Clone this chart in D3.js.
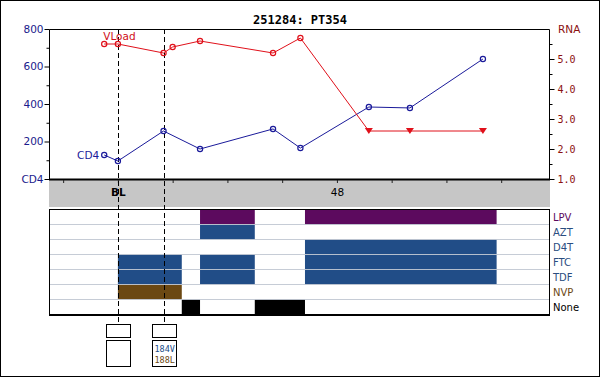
<!DOCTYPE html>
<html><head><meta charset="utf-8">
<script src="https://cdn.jsdelivr.net/npm/d3@7"></script>
<style>body{margin:0;background:#fff}svg{display:block}</style>
</head><body>
<script>
// ---- data ----
const title = "251284: PT354";
const cd4Weeks = [-3, 0, 10, 18, 34, 40, 55, 64, 80];
const cd4Values = [128, 96, 256, 160, 267, 165, 384, 379, 640];
const vlWeeks = [-3, 0, 10, 12, 18, 34, 40, 55, 64, 80];
const vlLog = [5.5, 5.5, 5.2, 5.4, 5.6, 5.2, 5.7, 2.6, 2.6, 2.6];
const vlBelow = [false, false, false, false, false, false, false, true, true, true];
const xTickWeeks = [-12, 0, 12, 24, 36, 48, 60, 72, 84];
const xTickLabels = {"0": "BL", "48": "48"};
const cd4Ticks = [0, 200, 400, 600, 800];
const cd4Minor = [100, 300, 500, 700];
const rnaTicks = [1, 2, 3, 4, 5];
const rnaMinor = [1.5, 2.5, 3.5, 4.5, 5.5];
const drugs = ["LPV", "AZT", "D4T", "FTC", "TDF", "NVP", "None"];
const drugClass = ["PI", "NRTI", "NRTI", "NRTI", "NRTI", "NNRTI", "NONE"];
const periodDrug = ["LPV", "LPV", "AZT", "D4T", "FTC", "FTC", "FTC", "TDF", "TDF", "TDF", "NVP", "None", "None"];
const periodStart = [18, 41, 18, 41, 0, 18, 41, 0, 18, 41, 0, 14, 30];
const periodEnd = [30, 83, 30, 83, 14, 30, 83, 14, 30, 83, 14, 18, 41];
const genoWeeks = [0, 10];
const genoMutations = [[], ["184V", "188L"]];
const genoMutClass = [[], ["NRTI", "NNRTI"]];

const classColor = {PI: "#5c0a5e", NRTI: "#214d87", NNRTI: "#6b4813", NONE: "#000"};
const labelColor = {PI: "#5c0a5e", NRTI: "#2a4d80", NNRTI: "#6b4813", NONE: "#000"};

// ---- layout ----
const W = 600, H = 377;
const L = 49, R = 550, T = 29, B = 179;
const svg = d3.select("body").append("svg").attr("width", W).attr("height", H);
svg.append("rect").attr("x", 0.5).attr("y", 0.5).attr("width", W - 1).attr("height", H - 1)
  .attr("fill", "#fff").attr("stroke", "#000");

const x = d3.scaleLinear().domain([-15.1, 94.7]).range([L, R]);
const yC = d3.scaleLinear().domain([0, 800]).range([B, T]);
const yR = d3.scaleLinear().domain([1, 6]).range([B, T]);

svg.append("text").attr("x", 300).attr("y", 24).attr("text-anchor", "middle")
  .attr("font-family", "DejaVu Sans Mono").attr("font-weight", "bold").attr("font-size", 12)
  .text(title);

// gray band
const bandTop = 180, bandBot = 207;
svg.append("rect").attr("x", L).attr("y", bandTop).attr("width", R - L).attr("height", bandBot - bandTop)
  .attr("fill", "#c6c6c6");

// plot frame
svg.append("path").attr("d", `M${L+0.5},${B}V${T+0.5}H${R-0.5}V${B}`).attr("fill", "none").attr("stroke", "#000");
svg.append("line").attr("x1", L).attr("x2", R).attr("y1", B + 0.5).attr("y2", B + 0.5)
  .attr("stroke", "#000").attr("stroke-width", 2);

// left axis
const leftAx = svg.append("g").attr("transform", `translate(${L+0.5},0)`)
  .call(d3.axisLeft(yC).tickValues(cd4Ticks).tickSize(5).tickFormat(d => d === 0 ? "CD4" : d));
leftAx.select(".domain").remove();
leftAx.selectAll("line").attr("stroke", "#000");
leftAx.selectAll("text").attr("fill", "#1a1a8c").attr("font-family", "DejaVu Sans").attr("font-size", 10.5).attr("x", -6);
const leftMin = svg.append("g").attr("transform", `translate(${L+0.5},0)`)
  .call(d3.axisLeft(yC).tickValues(cd4Minor).tickSize(3).tickFormat(""));
leftMin.select(".domain").remove();

// right axis
const rightAx = svg.append("g").attr("transform", `translate(${R-0.5},0)`)
  .call(d3.axisRight(yR).tickValues(rnaTicks).tickSize(5).tickFormat(d3.format(".1f")));
rightAx.select(".domain").remove();
rightAx.selectAll("text").attr("fill", "#8b1010").attr("font-family", "DejaVu Sans Mono").attr("font-size", 10).attr("x", 8);
const rightMin = svg.append("g").attr("transform", `translate(${R-0.5},0)`)
  .call(d3.axisRight(yR).tickValues(rnaMinor).tickSize(3).tickFormat(""));
rightMin.select(".domain").remove();
svg.append("text").attr("x", 558).attr("y", 33).attr("fill", "#8b1010")
  .attr("font-family", "DejaVu Sans").attr("font-size", 10.5).text("RNA");

// x axis in gray band
const xAx = svg.append("g").attr("transform", `translate(0,${bandTop})`)
  .call(d3.axisBottom(x).tickValues(xTickWeeks).tickSize(3).tickFormat(d => xTickLabels[d] || ""));
xAx.select(".domain").remove();
xAx.selectAll("line").attr("stroke", "#222");
xAx.selectAll("text").attr("font-family", "DejaVu Sans").attr("font-size", 10.5).attr("fill", "#000")
  .attr("y", 9).attr("font-weight", d => d === 0 ? "bold" : "normal");

// drug panel
const pTop = 209.5, rowH = 15;
const yD = d3.scaleBand().domain(drugs).range([pTop, pTop + rowH * drugs.length]);
const pBot = pTop + rowH * drugs.length;
svg.append("rect").attr("x", L + 0.5).attr("y", pTop).attr("width", R - L - 1).attr("height", pBot - pTop)
  .attr("fill", "#fff");
periodDrug.forEach((d, i) => {
  const ci = drugs.indexOf(d);
  svg.append("rect").attr("x", x(periodStart[i])).attr("y", yD(d))
    .attr("width", x(periodEnd[i]) - x(periodStart[i])).attr("height", yD.bandwidth())
    .attr("fill", classColor[drugClass[ci]]);
});
drugs.slice(1).forEach(d => {
  svg.append("line").attr("x1", L).attr("x2", R).attr("y1", yD(d)).attr("y2", yD(d))
    .attr("stroke", "rgba(192,198,210,0.9)");
});
svg.append("rect").attr("x", L + 0.5).attr("y", pTop).attr("width", R - L - 1).attr("height", pBot - pTop)
  .attr("fill", "none").attr("stroke", "#000");
svg.append("line").attr("x1", L).attr("x2", R).attr("y1", pBot + 0.5).attr("y2", pBot + 0.5)
  .attr("stroke", "#000").attr("stroke-width", 2);
drugs.forEach((d, i) => {
  svg.append("text").attr("x", 553).attr("y", yD(d) + 11).attr("fill", labelColor[drugClass[i]])
    .attr("font-family", "DejaVu Sans").attr("font-size", 10).text(d);
});

// genotype dashed lines and boxes
genoWeeks.forEach((w, i) => {
  const gx = Math.round(x(w)) + 0.5;
  svg.append("line").attr("x1", gx).attr("x2", gx).attr("y1", T).attr("y2", 324)
    .attr("stroke", "#000").attr("stroke-dasharray", "5,3");
  svg.append("rect").attr("x", gx - 12).attr("y", 324.5).attr("width", 24).attr("height", 13)
    .attr("fill", "#fff").attr("stroke", "#000");
  svg.append("rect").attr("x", gx - 12).attr("y", 340.5).attr("width", 24).attr("height", 26)
    .attr("fill", "#fff").attr("stroke", "#000");
  genoMutations[i].forEach((m, j) => {
    svg.append("text").attr("x", gx - 10).attr("y", 352 + j * 11).attr("fill", classColor[genoMutClass[i][j]])
      .attr("font-family", "DejaVu Sans Mono").attr("font-size", 8.5).text(m);
  });
});

// CD4 line
const cd4Pts = cd4Weeks.map((w, i) => [x(w), yC(cd4Values[i])]);
svg.append("path").attr("d", d3.line()(cd4Pts)).attr("fill", "none").attr("stroke", "#1a1a9a").attr("stroke-width", 1);
cd4Pts.forEach(p => svg.append("circle").attr("cx", p[0]).attr("cy", p[1]).attr("r", 2.6)
  .attr("fill", "none").attr("stroke", "#1a1a9a").attr("stroke-width", 1.2));
svg.append("text").attr("x", cd4Pts[0][0] - 5).attr("y", cd4Pts[0][1] + 4).attr("text-anchor", "end")
  .attr("fill", "#1a1a9a").attr("font-family", "DejaVu Sans").attr("font-size", 10.5).text("CD4");

// VLoad line
const vlPts = vlWeeks.map((w, i) => [x(w), yR(vlLog[i])]);
svg.append("path").attr("d", d3.line()(vlPts)).attr("fill", "none").attr("stroke", "#e0101a").attr("stroke-width", 1);
vlPts.forEach((p, i) => {
  if (vlBelow[i]) {
    svg.append("path").attr("d", `M${p[0]-4},${p[1]-3}L${p[0]+4},${p[1]-3}L${p[0]},${p[1]+3}Z`).attr("fill", "#e0101a");
  } else {
    svg.append("circle").attr("cx", p[0]).attr("cy", p[1]).attr("r", 2.6)
      .attr("fill", "none").attr("stroke", "#e0101a").attr("stroke-width", 1.2);
  }
});
svg.append("text").attr("x", vlPts[0][0] - 1).attr("y", vlPts[0][1] - 4)
  .attr("fill", "#d01020").attr("font-family", "DejaVu Sans").attr("font-size", 10.5).text("VLoad");
</script>
</body></html>
